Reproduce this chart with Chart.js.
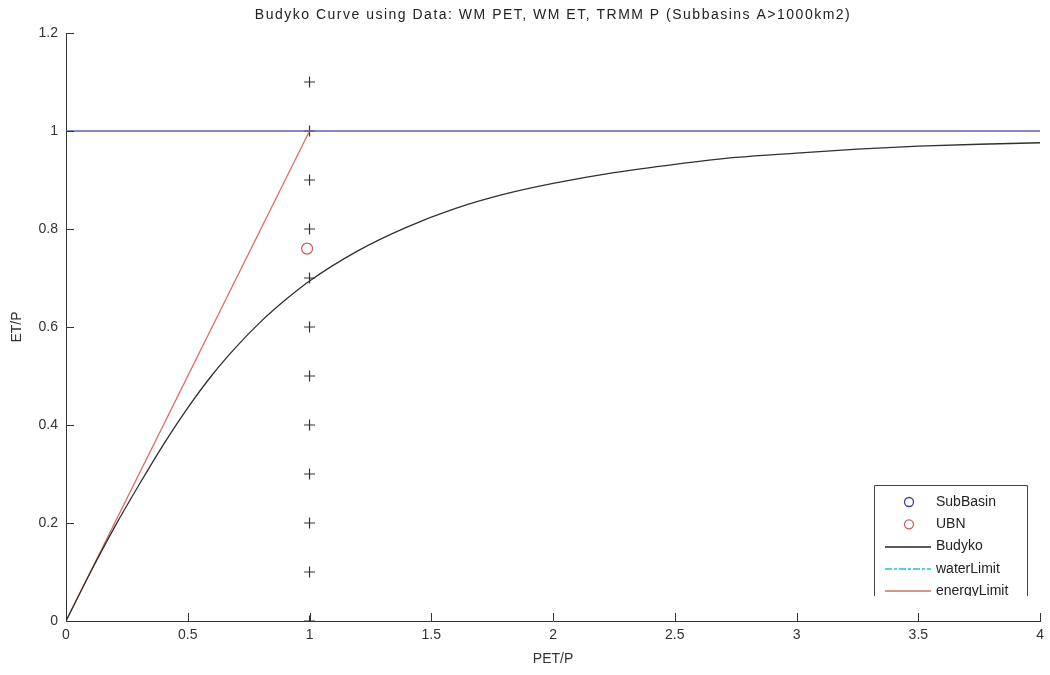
<!DOCTYPE html>
<html lang="en">
<head>
  <meta charset="UTF-8">
  <title>Budyko Curve</title>
  <script src="https://cdn.jsdelivr.net/npm/chart.js"></script>
  <style>
    body { margin: 0; background: #fff; }
  </style>
</head>
<body>
  <canvas id="chartBudyko" width="1050" height="675"></canvas>

<script>
  // Dados
  const tituloGrafico = 'Budyko Curve using Data: WM PET, WM ET, TRMM P (Subbasins A>1000km2)';

  const subBasinX = [];
  const subBasinY = [];

  const ubnX = [0.99];
  const ubnY = [0.76];

  const budykoX = [0, 0.1, 0.2, 0.3, 0.4, 0.5, 0.6, 0.7, 0.8, 0.9, 1.0, 1.2, 1.4, 1.6, 1.8, 2.0, 2.25, 2.5, 2.75, 3.0, 3.25, 3.5, 3.75, 4.0];
  const budykoY = [0, 0.099, 0.192, 0.278, 0.36, 0.435, 0.502, 0.56, 0.611, 0.655, 0.694, 0.756, 0.804, 0.842, 0.871, 0.893, 0.915, 0.932, 0.946, 0.955, 0.963, 0.969, 0.973, 0.976];

  const waterLimitX = [0, 4];
  const waterLimitY = [1, 1];

  const energyLimitX = [0, 1];
  const energyLimitY = [0, 1];

  const marcasX = [1, 1, 1, 1, 1, 1, 1, 1, 1, 1, 1, 1];
  const marcasY = [0, 0.1, 0.2, 0.3, 0.4, 0.5, 0.6, 0.7, 0.8, 0.9, 1.0, 1.1];

  const ticksX = [0, 0.5, 1, 1.5, 2, 2.5, 3, 3.5, 4];
  const ticksY = [0, 0.2, 0.4, 0.6, 0.8, 1, 1.2];

  const pontos = (xs, ys) => xs.map((x, i) => ({ x: x, y: ys[i] }));

  const fonte = 'Liberation Sans, Arial, sans-serif';
  const corEixo = '#333333';

  // ticks para dentro, estilo MATLAB
  const ticksInternos = {
    id: 'ticksInternos',
    afterDraw(chart) {
      const ctx = chart.ctx;
      const area = chart.chartArea;
      const sx = chart.scales.x;
      const sy = chart.scales.y;
      ctx.save();
      ctx.strokeStyle = corEixo;
      ctx.lineWidth = 1;
      ctx.beginPath();
      ticksX.forEach(v => {
        const px = Math.round(sx.getPixelForValue(v)) + 0.5;
        ctx.moveTo(px, area.bottom);
        ctx.lineTo(px, area.bottom - 8);
      });
      ticksY.forEach(v => {
        const py = Math.round(sy.getPixelForValue(v)) + 0.5;
        ctx.moveTo(area.left, py);
        ctx.lineTo(area.left + 8, py);
      });
      ctx.stroke();

      // título
      ctx.fillStyle = '#222';
      ctx.font = '14px ' + fonte;
      ctx.letterSpacing = '1.5px';
      ctx.textAlign = 'center';
      ctx.textBaseline = 'middle';
      ctx.fillText(tituloGrafico, (area.left + area.right) / 2, 15);
      ctx.restore();
    }
  };

  // legenda dentro da área, cortada embaixo
  const legendaInterna = {
    id: 'legendaInterna',
    afterDraw(chart) {
      const ctx = chart.ctx;
      const itens = [
        { texto: 'SubBasin', tipo: 'circulo', cor: '#3a3aa8' },
        { texto: 'UBN', tipo: 'circulo', cor: '#d05a5a' },
        { texto: 'Budyko', tipo: 'linha', cor: '#222222' },
        { texto: 'waterLimit', tipo: 'tracejada', cor: '#18c4dc' },
        { texto: 'energyLimit', tipo: 'linha', cor: '#c07462' }
      ];
      const x0 = 874, y0 = 485, x1 = 1027, yCorte = 596;
      ctx.save();
      ctx.beginPath();
      ctx.rect(x0 - 2, y0 - 2, x1 - x0 + 4, yCorte - y0 + 2);
      ctx.clip();
      ctx.fillStyle = '#fff';
      ctx.fillRect(x0, y0, x1 - x0, yCorte - y0 + 10);
      ctx.strokeStyle = '#444';
      ctx.lineWidth = 1;
      ctx.beginPath();
      ctx.moveTo(x0 + 0.5, yCorte);
      ctx.lineTo(x0 + 0.5, y0 + 0.5);
      ctx.lineTo(x1 + 0.5, y0 + 0.5);
      ctx.lineTo(x1 + 0.5, yCorte);
      ctx.stroke();

      ctx.font = '14px ' + fonte;
      ctx.textBaseline = 'middle';
      ctx.textAlign = 'left';
      itens.forEach((item, i) => {
        const y = 502 + i * 22.3;
        ctx.strokeStyle = item.cor;
        ctx.lineWidth = 1.5;
        ctx.setLineDash([]);
        if (item.tipo === 'circulo') {
          ctx.lineWidth = 1.3;
          ctx.beginPath();
          ctx.arc(909, y, 4.5, 0, Math.PI * 2);
          ctx.stroke();
        } else {
          if (item.tipo === 'tracejada') ctx.setLineDash([7, 2, 3, 2]);
          ctx.beginPath();
          ctx.moveTo(885, Math.round(y));
          ctx.lineTo(931, Math.round(y));
          ctx.stroke();
        }
        ctx.fillStyle = '#222';
        ctx.fillText(item.texto, 936, y);
      });
      ctx.restore();
    }
  };

  const formatarTick = v => Number(v.toFixed(2)).toString();

  const grafico = document.getElementById('chartBudyko');

  new Chart(grafico, {
    type: 'scatter',
    data: {
      datasets: [{
        label: 'SubBasin',
        data: pontos(subBasinX, subBasinY),
        borderColor: '#3a3aa8',
        backgroundColor: 'rgba(0,0,0,0)',
        pointRadius: 5
      }, {
        label: 'UBN',
        data: pontos(ubnX, ubnY),
        borderColor: '#d05a5a',
        backgroundColor: 'rgba(0,0,0,0)',
        borderWidth: 1.2,
        pointRadius: 5.5
      }, {
        label: 'Budyko',
        data: pontos(budykoX, budykoY),
        type: 'line',
        showLine: true,
        borderColor: '#303030',
        borderWidth: 1.3,
        pointRadius: 0,
        cubicInterpolationMode: 'monotone',
        fill: false
      }, {
        label: 'waterLimit',
        data: pontos(waterLimitX, waterLimitY),
        type: 'line',
        showLine: true,
        borderColor: '#5a64a8',
        borderWidth: 1.3,
        pointRadius: 0,
        fill: false
      }, {
        label: 'energyLimit',
        data: pontos(energyLimitX, energyLimitY),
        type: 'line',
        showLine: true,
        borderColor: '#d8705c',
        borderWidth: 1.3,
        pointRadius: 0,
        fill: false
      }, {
        label: 'marcas',
        data: pontos(marcasX, marcasY),
        pointStyle: 'cross',
        pointRadius: 5.5,
        borderColor: '#333333',
        borderWidth: 1.2
      }]
    },
    options: {
      responsive: false,
      animation: false,
      layout: { padding: { left: 0, top: 33, right: 0, bottom: 0 } },
      plugins: {
        legend: { display: false },
        tooltip: { enabled: false }
      },
      scales: {
        x: {
          type: 'linear',
          min: 0,
          max: 4,
          afterBuildTicks: s => { s.ticks = ticksX.map(v => ({ value: v })); },
          afterFit: s => { s.height = 54; },
          grid: { display: false, drawTicks: false },
          border: { display: true, color: corEixo, width: 1 },
          ticks: { color: '#333', padding: 6, maxRotation: 0, callback: formatarTick, font: { family: fonte, size: 14 } },
          title: { display: true, text: 'PET/P', color: '#333', padding: { top: 0, bottom: 7 }, font: { family: fonte, size: 14 } }
        },
        y: {
          type: 'linear',
          min: 0,
          max: 1.2,
          afterBuildTicks: s => { s.ticks = ticksY.map(v => ({ value: v })); },
          afterFit: s => { s.width = 66; },
          grid: { display: false, drawTicks: false },
          border: { display: true, color: corEixo, width: 1 },
          ticks: { color: '#333', padding: 8, callback: formatarTick, font: { family: fonte, size: 14 } },
          title: { display: true, text: 'ET/P', color: '#333', padding: { top: 9, bottom: 0 }, font: { family: fonte, size: 14 } }
        }
      }
    },
    plugins: [ticksInternos, legendaInterna]
  });
</script>
</body>
</html>
